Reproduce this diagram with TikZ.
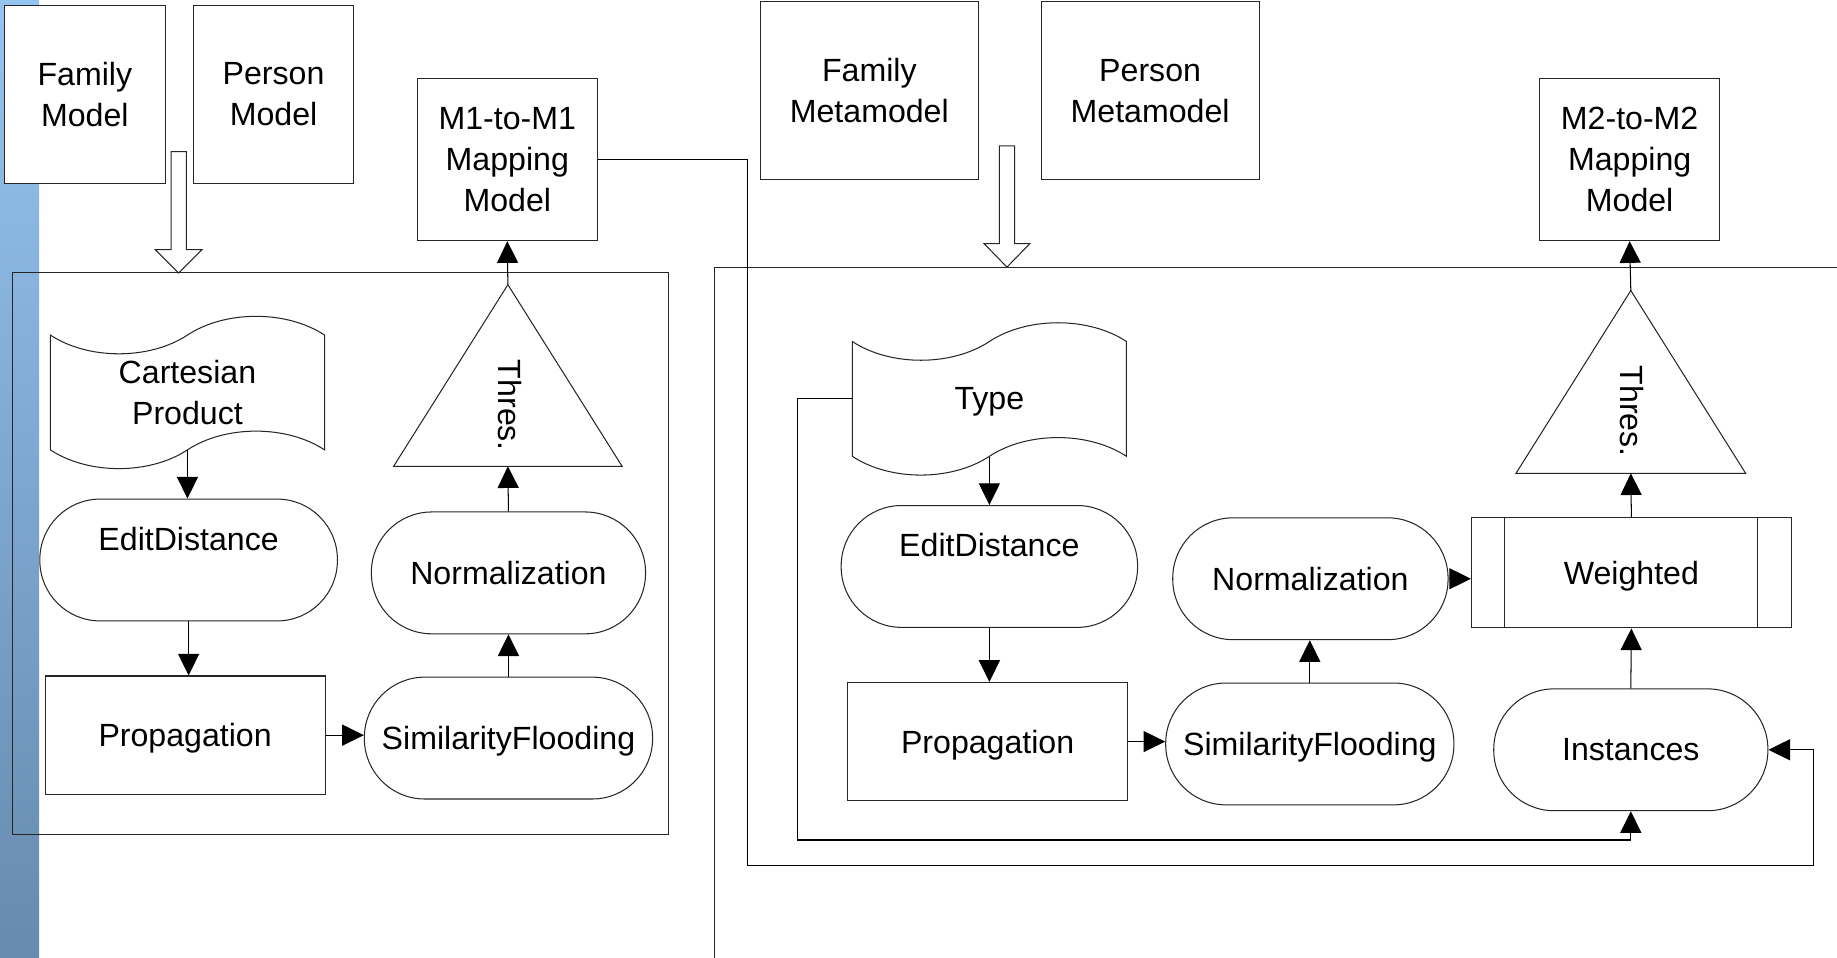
\documentclass[tikz,border=0pt]{standalone}
\usepackage{fontspec}
\setmainfont{Liberation Sans}
\usetikzlibrary{arrows.meta,shapes.symbols}

\definecolor{bartop}{RGB}{148,196,240}
\definecolor{barbot}{RGB}{103,138,175}

\tikzset{
  frame/.style={draw=black!85, line width=0.5pt},
  box/.style={frame, fill=white, align=center, inner sep=0pt, text depth=0pt},
  model/.style={box, minimum height=30.4mm},
  mapping/.style={box, minimum width=30.8mm, minimum height=27.7mm},
  stadium/.style={box, rounded corners=10.3mm, minimum height=20.8mm},
  process/.style={box, minimum width=47.8mm, minimum height=20.2mm},
  doc/.style={box, tape, tape bend height=6.4mm, minimum width=46.8mm, minimum height=26mm},
  hollow/.style={frame, fill=white},
  raised/.style={yshift=3.6mm},
  arr/.style={-{Triangle[length=3.7mm,width=3.6mm]}, line width=0.5pt},
}

\begin{document}
\begin{tikzpicture}[x=0.2mm, y=-0.2mm, font=\fontsize{15.6}{19.9}\selectfont]
  \useasboundingbox (0,0) rectangle (1568,817);
  \clip (0,0) rectangle (1568,817);
  \shade[top color=bartop, bottom color=barbot] (0,0) rectangle (33.3,817);

  % frames
  \draw[frame] (10.7,233) rectangle (571,712.7);
  \draw[frame] (610,228) rectangle (1600,830);

  % models
  \node[model, minimum width=27.4mm] (fammod) at (72.4,80.4) {Family\\Model};
  \node[model, minimum width=27.4mm] (permod) at (233.5,80.4) {Person\\Model};
  \node[model, minimum width=37.2mm] (fammeta) at (742,77.5) {Family\\Metamodel};
  \node[model, minimum width=37.2mm] (permeta) at (981.7,77.5) {Person\\Metamodel};
  \node[mapping] (mapone) at (433,136.2) {M1-to-M1\\Mapping\\Model};
  \node[mapping] (maptwo) at (1391,136.2) {M2-to-M2\\Mapping\\Model};

  \draw[hollow] (146,129.5) -- (146,213) -- (132.5,213) -- (152.5,233)
    -- (172.5,213) -- (159,213) -- (159,129.5) -- cycle;
  \draw[hollow] (853,124.5) -- (853,208) -- (840,208) -- (859.5,228)
    -- (879,208) -- (866,208) -- (866,124.5) -- cycle;

  % M1 matching
  \node[doc] (cart) at (160,335) {Cartesian\\Product};
  \node[stadium, minimum width=50.8mm, label={[raised]center:EditDistance}] (ed1) at (161,478) {};
  \node[process] (prop1) at (158,627.5) {Propagation};
  \node[stadium, minimum width=49.2mm] (sf1) at (434,630) {SimilarityFlooding};
  \node[stadium, minimum width=46.8mm] (norm1) at (434,489) {Normalization};
  \coordinate (thr1top) at (433.5,243);
  \coordinate (thr1base) at (433.5,398);
  \draw[hollow] (336,398) -- (thr1top) -- (531,398) -- cycle;
  \node[rotate=-90] (thr1) at (435,346) {Thres.};

  \draw[arr] (cart.south) -- (cart.south |- ed1.north);
  \draw[arr] (ed1.south) -- (ed1.south |- prop1.north);
  \draw[arr] (prop1.east) -- (prop1.east -| sf1.west);
  \draw[arr] (sf1.north) -- (sf1.north |- norm1.south);
  \draw[arr] (norm1.north) -- (thr1base);
  \draw[arr] (thr1top) -- (mapone.south);

  % M2 matching
  \node[doc] (type) at (844.5,340.5) {Type};
  \node[stadium, minimum width=50.6mm, label={[raised]center:EditDistance}] (ed2) at (844.5,483.5) {};
  \node[process] (prop2) at (843,633) {Propagation};
  \node[stadium, minimum width=49.2mm] (sf2) at (1118,635) {SimilarityFlooding};
  \node[stadium, minimum width=47mm] (norm2) at (1118.5,494) {Normalization};
  \node[process, minimum width=54.6mm, minimum height=18.8mm] (wt) at (1392.5,489) {Weighted};
  \draw[frame] ([xshift=5.8mm]wt.north west) -- ([xshift=5.8mm]wt.south west)
    ([xshift=-5.8mm]wt.north east) -- ([xshift=-5.8mm]wt.south east);
  \node[stadium, minimum width=46.8mm] (inst) at (1392,640) {Instances};
  \coordinate (thr2top) at (1392,248);
  \coordinate (thr2base) at (1392,404);
  \draw[hollow] (1294,404) -- (thr2top) -- (1490,404) -- cycle;
  \node[rotate=-90] (thr2) at (1393,351) {Thres.};

  \draw[arr] (type.south) -- (type.south |- ed2.north);
  \draw[arr] (ed2.south) -- (ed2.south |- prop2.north);
  \draw[arr] (prop2.east) -- (prop2.east -| sf2.west);
  \draw[arr] (sf2.north) -- (sf2.north |- norm2.south);
  \draw[arr] (norm2.east) -- (norm2.east -| wt.west);
  \draw[arr] (inst.north) -- (wt.south);
  \draw[arr] (wt.north) -- (thr2base);
  \draw[arr] (thr2top) -- (maptwo.south);

  % feedback into Instances
  \draw[arr] (type.west) -| (681,717) -| (inst.south);
  \draw[arr] (mapone.east) -| (638,739) -| (1548,700) |- (inst.east);
\end{tikzpicture}
\end{document}
